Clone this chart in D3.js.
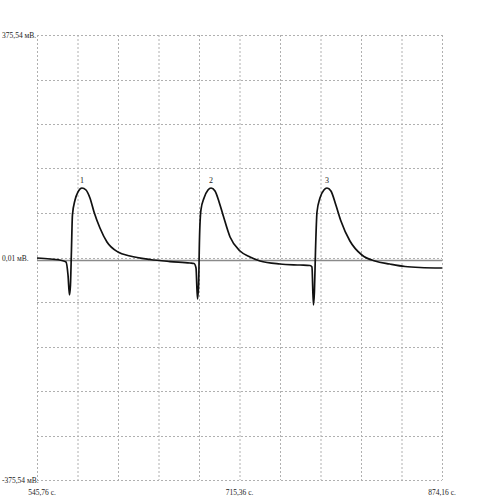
<!DOCTYPE html>
<html><head><meta charset="utf-8">
<script src="https://cdn.jsdelivr.net/npm/d3@7"></script>
<style>body{margin:0;background:#fff}svg{display:block}</style>
</head><body>
<svg id="c" width="497" height="504"></svg>
<script>
const xMin = 545.76, xMax = 874.16;
const yMin = -375.54, yMax = 375.54;
const xTickLabels = ["545,76 с.", "715,36 с.", "874,16 с."];
const yTickLabels = ["375,54 мВ.", "0,01 мВ.", "-375,54 мВ."];
const traceT = [545.76,556.3,566.0,569.3,570.9,572.1,572.9,573.7,574.5,576.6,579.0,582.2,585.5,588.7,592.0,596.8,602.5,611.4,621.2,637.4,653.6,669.8,
 673.1,674.7,675.9,676.8,677.5,678.7,681.2,684.4,686.9,690.1,693.4,696.6,702.3,710.4,718.5,726.6,742.8,759.0,767.1,
 768.7,769.9,770.7,771.6,772.8,775.2,778.4,780.9,784.1,788.1,792.2,799.5,809.2,819.8,831.9,844.2,856.3,874.16];
const traceV = [-0.8,-2.5,-5.1,-7.6,-29.5,-63.3,-46.4,12.7,71.7,97.1,110.6,117.3,113.9,100.4,76.8,49.8,26.2,9.3,2.5,-3.4,-6.8,-9.3,
 -10.1,-17.7,-70.0,-46.4,29.5,80.2,100.4,113.9,117.3,112.2,93.7,71.7,34.6,11.0,0.8,-5.9,-11.0,-12.7,-13.5,
 -16.0,-80.2,-58.2,12.7,76.8,100.4,113.9,117.3,112.2,88.6,61.6,27.9,4.2,-5.9,-11.0,-15.2,-16.9,-17.7];
const baselineV = -5.1;
const peakLabels = ["1", "2", "3"];
const peakT = [582.2, 686.9, 780.9];
const peakV = [117.3, 117.3, 117.3];

const svg = d3.select("#c");
const L = 37, R = 442, T = 35, B = 480;
const x = d3.scaleLinear().domain([xMin, xMax]).range([L, R]);
const y = d3.scaleLinear().domain([yMin, yMax]).range([B, T]);
const font = "Liberation Serif";

const g = svg.append("g");
// grid
const xt = d3.range(11).map(i => xMin + (xMax - xMin) * i / 10);
const yt = d3.range(11).map(i => yMin + (yMax - yMin) * i / 10);
g.selectAll(".vg").data(xt).join("line")
  .attr("x1", d => x(d) + 0.5).attr("x2", d => x(d) + 0.5).attr("y1", T).attr("y2", B)
  .attr("stroke", "#b0b0b0").attr("stroke-width", 1).attr("stroke-dasharray", "2,2");
g.selectAll(".hg").data(yt).join("line")
  .attr("y1", d => Math.round(y(d)) + 0.5).attr("y2", d => Math.round(y(d)) + 0.5).attr("x1", L).attr("x2", R)
  .attr("stroke", "#b0b0b0").attr("stroke-width", 1).attr("stroke-dasharray", "2,2");

// baseline
g.append("line").attr("x1", L).attr("x2", R).attr("y1", y(baselineV)).attr("y2", y(baselineV))
  .attr("stroke", "#8a8a8a").attr("stroke-width", 1.5);

// trace
const pts = traceT.map((t, i) => [t, traceV[i]]);
g.append("path").datum(pts)
  .attr("d", d3.line().x(d => x(d[0])).y(d => y(d[1])).curve(d3.curveMonotoneX))
  .attr("fill", "none").attr("stroke", "#111").attr("stroke-width", 1.7);

// peak labels
g.selectAll(".pl").data(peakLabels).join("text")
  .attr("x", (d, i) => x(peakT[i])).attr("y", (d, i) => y(peakV[i]) - 5)
  .attr("text-anchor", "middle").attr("font-family", font).attr("font-size", 8).attr("fill", "#222")
  .text(d => d);

// y labels
const yLabVals = [yMax, 0, yMin];
g.selectAll(".yl").data(yTickLabels).join("text")
  .attr("x", 2).attr("y", (d, i) => y(yLabVals[i]) + 3)
  .attr("font-family", font).attr("font-size", 7.5).attr("fill", "#222")
  .text(d => d);

// x labels
const xLabVals = [xMin, (xMin + xMax) / 2, xMax];
g.selectAll(".xl").data(xTickLabels).join("text")
  .attr("x", (d, i) => x(xLabVals[i]) + (i === 0 ? 5 : 0)).attr("y", 495)
  .attr("text-anchor", "middle")
  .attr("font-family", font).attr("font-size", 7.5).attr("fill", "#222")
  .text(d => d);
</script>
</body></html>
